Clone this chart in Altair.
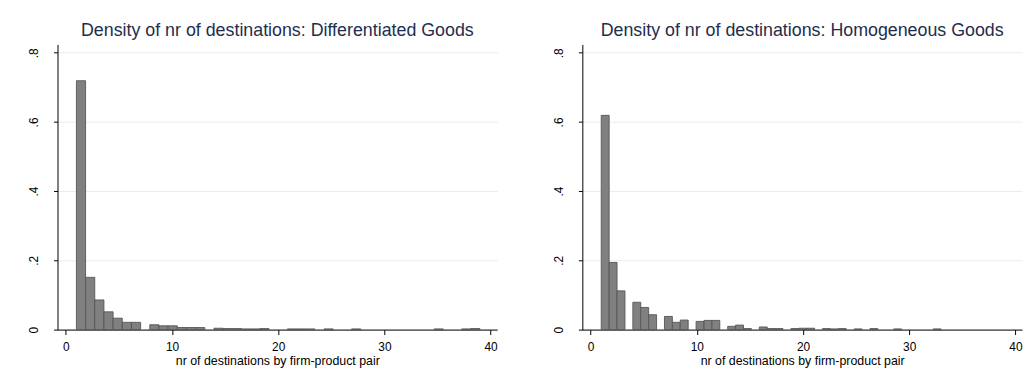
import json
import altair as alt
import pandas as pd

# ---- data ----
diff_range = [1, 39]
diff_nbins = 44
diff_density = [
    0.719, 0.151, 0.0857, 0.0514, 0.033, 0.021, 0.021, 0.0, 0.014, 0.011,
    0.011, 0.006, 0.006, 0.006, 0.0, 0.004, 0.003, 0.003, 0.002, 0.002,
    0.003, 0.0, 0.0, 0.002, 0.002, 0.002, 0.0, 0.002, 0.0, 0.0,
    0.002, 0.0, 0.0, 0.0, 0.0, 0.0, 0.0, 0.0, 0.0, 0.002,
    0.0, 0.0, 0.002, 0.003,
]

homo_range = [1, 33]
homo_nbins = 43
homo_density = [
    0.619, 0.194, 0.112, 0.0, 0.079, 0.064, 0.043, 0.0, 0.038, 0.021,
    0.0276, 0.0, 0.0237, 0.0266, 0.0266, 0.0, 0.0095, 0.013, 0.003, 0.0,
    0.0076, 0.003, 0.003, 0.0, 0.003, 0.004, 0.004, 0.0, 0.003, 0.002,
    0.003, 0.0, 0.002, 0.0, 0.003, 0.0, 0.0, 0.002, 0.0, 0.0,
    0.0, 0.0, 0.002,
]

panel_titles = [
    "Density of nr of destinations: Differentiated Goods",
    "Density of nr of destinations: Homogeneous Goods",
]
x_title = "nr of destinations by firm-product pair"
x_tick_values = [0, 10, 20, 30, 40]
y_tick_values = [0, 0.2, 0.4, 0.6, 0.8]
y_tick_labels = ["0", ".2", ".4", ".6", ".8"]

FONT = "Liberation Sans"
TITLE_COLOR = "#1f2d4e"
FILL = "#808080"
EDGE = "#555555"
GRID = "#e6eef1"


def make_df(rng, nbins, dens):
    w = (rng[1] - rng[0]) / nbins
    rows = []
    for i, d in enumerate(dens):
        if d > 0:
            rows.append({"lo": rng[0] + i * w, "hi": rng[0] + (i + 1) * w,
                         "density": d, "base": 0.0})
    return pd.DataFrame(rows)


y_label_expr = json.dumps(y_tick_labels) + "[round(datum.value * 5)]"


def panel(df, title):
    return (
        alt.Chart(df, title=alt.Title(title))
        .mark_rect(fill=FILL, stroke=EDGE, strokeWidth=0.9)
        .encode(
            x=alt.X(
                "lo:Q",
                scale=alt.Scale(domain=[-0.78, 40.62], nice=False, zero=False),
                axis=alt.Axis(values=x_tick_values, title=x_title, grid=False,
                              tickSize=5, labelPadding=7, titlePadding=2),
            ),
            x2="hi:Q",
            y=alt.Y(
                "density:Q",
                scale=alt.Scale(domain=[0, 0.824], nice=False),
                axis=alt.Axis(values=y_tick_values, labelExpr=y_label_expr,
                              title=None, grid=True, gridColor=GRID,
                              tickSize=4, labelAngle=270, labelAlign="center",
                              labelBaseline="alphabetic", labelPadding=16),
            ),
            y2="base:Q",
        )
        .properties(width=444, height=288)
    )


left = panel(make_df(diff_range, diff_nbins, diff_density), panel_titles[0])
right = panel(make_df(homo_range, homo_nbins, homo_density), panel_titles[1])

chart = (
    alt.hconcat(left, right, spacing=55)
    .properties(padding={"left": 20, "top": 12, "right": 0, "bottom": 0},
                background="white")
    .configure_view(strokeWidth=0)
    .configure_axis(
        domainColor="#000000", tickColor="#000000", labelColor="#000000",
        labelFont=FONT, labelFontSize=12, titleFont=FONT, titleFontSize=12.5,
        titleFontWeight="normal", titleColor="#000000", domainWidth=1,
    )
    .configure_title(font=FONT, fontSize=18, fontWeight="normal",
                     color=TITLE_COLOR, anchor="middle", offset=5)
)

chart.save("out.html", embed_options={"renderer": "svg", "actions": False})
